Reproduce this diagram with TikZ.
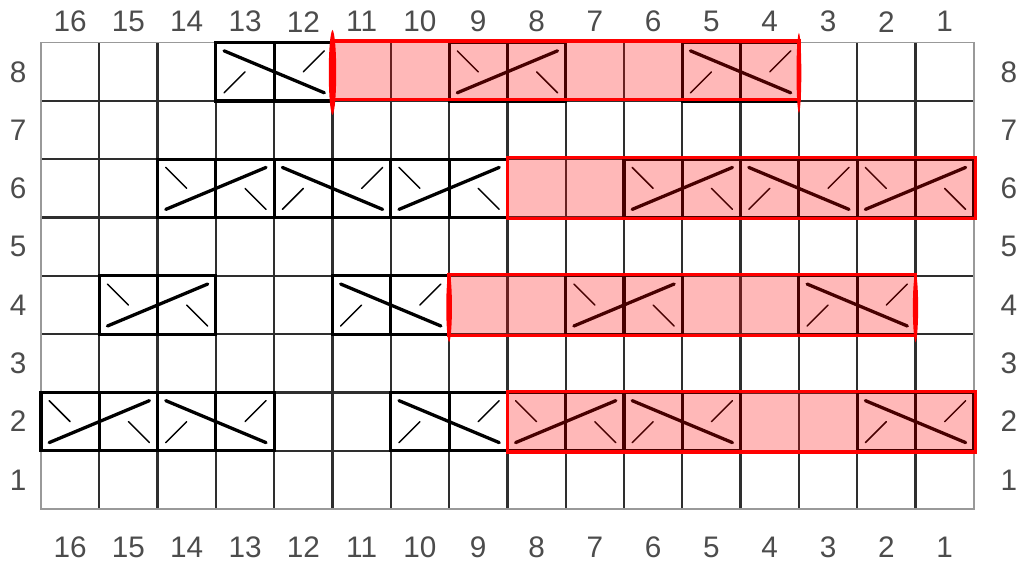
\documentclass[tikz,border=0pt]{standalone}
\usepackage{fontspec}
\setmainfont{Liberation Sans}
\tikzset{
  gridline/.style={line width=1.1pt, draw=black!82},
  outerline/.style={line width=0.8pt, draw=black!40},
  cellbox/.style={line width=1.5pt, draw=black},
  longline/.style={line width=1.6pt, draw=black, line cap=round},
  shortline/.style={line width=0.7pt, draw=black, line cap=round},
  redfill/.style={fill=red, fill opacity=0.28},
  redbox/.style={line width=1.6pt, draw=red},
  redmark/.style={fill=red},
  lab/.style={font=\fontsize{14.5}{16}\selectfont, text=black!70, inner sep=0pt},
  cableA/.pic={
    \draw[cellbox] (0,0) rectangle (1,1) (1,0) rectangle (2,1);
    \draw[longline] (0.14,0.14) -- (1.86,0.86);
    \draw[shortline] (0.14,0.86) -- (0.5,0.5) (1.5,0.5) -- (1.86,0.14);
  },
  cableB/.pic={
    \draw[cellbox] (0,0) rectangle (1,1) (1,0) rectangle (2,1);
    \draw[longline] (0.14,0.86) -- (1.86,0.14);
    \draw[shortline] (0.14,0.14) -- (0.5,0.5) (1.5,0.5) -- (1.86,0.86);
  }
}
\newcommand\handmark[4]{%
  \fill[redmark] (#1,#2) .. controls (#1+#4,#2-0.1) and (#1+#4,#3+0.1) .. (#1,#3)
    .. controls (#1-#4,#3+0.1) and (#1-#4,#2-0.1) .. (#1,#2) -- cycle;}
\begin{document}
\begin{tikzpicture}[x=1cm,y=1cm]
\useasboundingbox (-0.703,-0.942) rectangle (16.844,8.732);
% grid
\foreach \i in {1,...,15} \draw[gridline] (\i,0) -- (\i,8);
\foreach \j in {1,...,7} \draw[gridline] (0,\j) -- (16,\j);
\draw[outerline] (0,0) rectangle (16,8);
% labels
\foreach \c in {1,...,16} {
  \node[lab] (top\c) at (16.5-\c,8.36) {\c};
  \node[lab] (bot\c) at (16.5-\c,-0.66) {\c};
}
\foreach \r in {1,...,8} {
  \node[lab] (left\r) at (-0.39,\r-0.5) {\r};
  \node[lab] (right\r) at (16.6,\r-0.5) {\r};
}
% row 8
\pic at (3,7) {cableB};
\pic at (7,7) {cableA};
\pic at (11,7) {cableB};
% row 6
\pic at (2,5) {cableA};
\pic at (4,5) {cableB};
\pic at (6,5) {cableA};
\pic at (10,5) {cableA};
\pic at (12,5) {cableB};
\pic at (14,5) {cableA};
% row 4
\pic at (1,3) {cableA};
\pic at (5,3) {cableB};
\pic at (9,3) {cableA};
\pic at (13,3) {cableB};
% row 2
\pic at (0,1) {cableA};
\pic at (2,1) {cableB};
\pic at (6,1) {cableB};
\pic at (8,1) {cableA};
\pic at (10,1) {cableB};
\pic at (14,1) {cableB};
% red highlights
\fill[redfill] (5,7) rectangle (13,8);
\fill[redfill] (8,5) rectangle (16,6);
\fill[redfill] (7,3) rectangle (15,4);
\fill[redfill] (8,1) rectangle (16,2);
\draw[redbox] (5,7.02) rectangle (13,8.03);
\draw[redbox] (8,4.98) rectangle (16.03,6.03);
\draw[redbox] (7,2.98) rectangle (15,4.02);
\draw[redbox] (8,0.98) rectangle (16.03,2.02);
% hand-drawn marks
\handmark{5}{8.22}{6.76}{0.085}
\handmark{13}{8.17}{6.79}{0.055}
\handmark{7}{4.07}{2.86}{0.065}
\handmark{15}{4.05}{2.86}{0.06}
\end{tikzpicture}
\end{document}
